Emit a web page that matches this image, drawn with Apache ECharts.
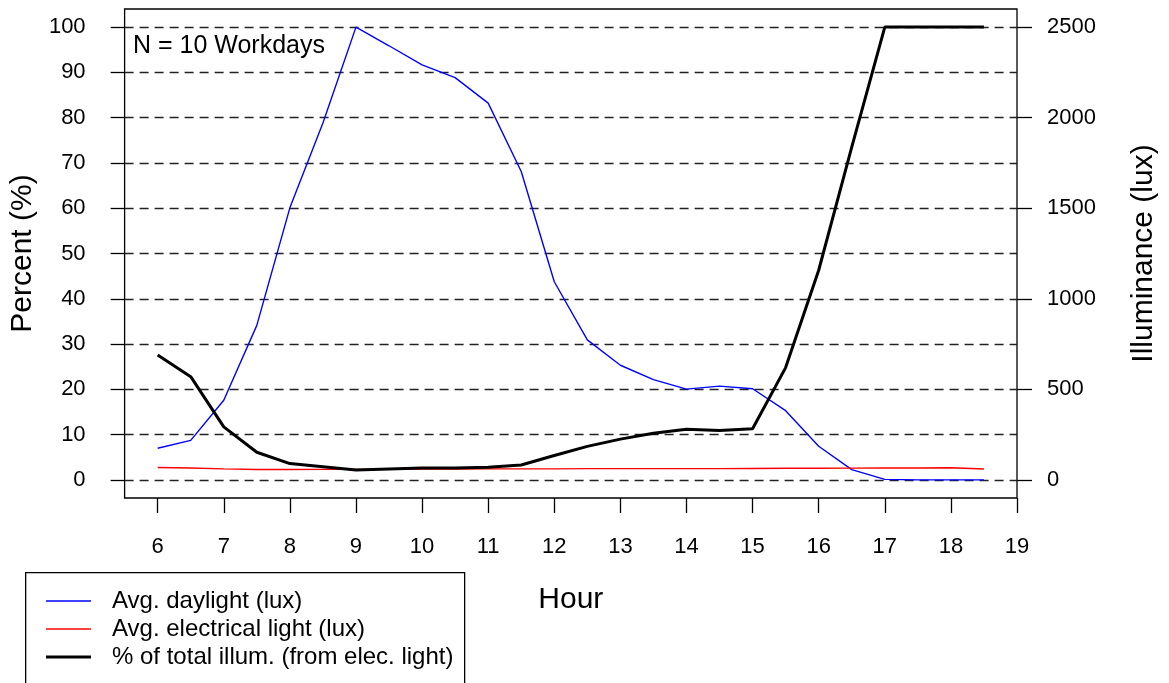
<!DOCTYPE html>
<html>
<head>
<meta charset="utf-8">
<script src="https://cdn.jsdelivr.net/npm/echarts@6/dist/echarts.min.js"></script>
<style>
html,body{margin:0;padding:0;background:#fff;}
#c{width:1169px;height:683px;}
</style>
</head>
<body>
<div id="c"></div>
<script>
var hours = [6, 6.5, 7, 7.5, 8, 8.5, 9, 9.5, 10, 10.5, 11, 11.5, 12, 12.5, 13, 13.5, 14, 14.5, 15, 15.5, 16, 16.5, 17, 17.5, 18, 18.5];
var daylightLux = [175, 218, 440, 853, 1502, 1970, 2500, 2397, 2291, 2221, 2080, 1703, 1094, 773, 633, 554, 501, 518, 503, 382, 186, 57, 3, 0, 0, 0];
var electricLux = [68, 66, 61, 57, 57, 58, 58, 59, 60, 60, 61, 61, 61, 62, 62, 62, 62, 62, 63, 64, 64, 65, 66, 66, 67, 60];
var pctElectric = [27.6, 22.8, 11.7, 6.1, 3.6, 2.9, 2.2, 2.4, 2.6, 2.6, 2.8, 3.3, 5.4, 7.4, 9.0, 10.3, 11.2, 10.9, 11.3, 24.8, 46.3, 73.5, 100, 100, 100, 100];
var xTicks = [6, 7, 8, 9, 10, 11, 12, 13, 14, 15, 16, 17, 18, 19];
var pctTicks = [0, 10, 20, 30, 40, 50, 60, 70, 80, 90, 100];
var luxTicks = [0, 500, 1000, 1500, 2000, 2500];
var seriesNames = ['Avg. daylight (lux)', 'Avg. electrical light (lux)', '% of total illum. (from elec. light)'];
var annotation = 'N = 10 Workdays';

function pairs(xs, ys) { return xs.map(function (x, i) { return [x, ys[i]]; }); }
function plain(v) { return String(v); }

var FONT = '"Liberation Sans", Arial, Helvetica, sans-serif';
var chart = echarts.init(document.getElementById('c'), null, {renderer: 'canvas'});
chart.setOption({
  animation: false,
  backgroundColor: '#ffffff',
  textStyle: {fontFamily: FONT, color: '#000'},
  title: {
    text: annotation, left: 133, top: 34, padding: 0,
    textStyle: {fontFamily: FONT, fontSize: 25, fontWeight: 'normal', color: '#000'}
  },
  grid: {left: 124, right: 152, top: 9, bottom: 185, show: true, borderColor: '#000', borderWidth: 1.3, backgroundColor: 'transparent'},
  xAxis: {
    type: 'value', min: 5.5, max: 19,
    name: 'Hour', nameLocation: 'middle', nameGap: 87,
    nameTextStyle: {fontFamily: FONT, fontSize: 30, color: '#000'},
    axisLine: {show: false, onZero: false},
    axisTick: {show: true, customValues: xTicks, length: 15, inside: false, lineStyle: {color: '#000', width: 1.3}},
    axisLabel: {customValues: xTicks, margin: 38, fontFamily: FONT, fontSize: 22, color: '#000', formatter: plain},
    splitLine: {show: false}
  },
  yAxis: [{
    type: 'value', min: -4, max: 104, position: 'left',
    name: 'Percent (%)', nameLocation: 'middle', nameGap: 82, nameRotate: 90,
    nameTextStyle: {fontFamily: FONT, fontSize: 30, color: '#000'},
    axisLine: {show: false, onZero: false},
    axisTick: {show: true, customValues: pctTicks, length: 14, lineStyle: {color: '#000', width: 1.3}},
    axisLabel: {customValues: pctTicks, margin: 39, fontFamily: FONT, fontSize: 22, color: '#000', formatter: plain},
    splitLine: {show: true, lineStyle: {color: '#222', width: 1.3, type: [9, 6]}}
  }, {
    type: 'value', min: -100, max: 2600, position: 'right',
    name: 'Illuminance (lux)', nameLocation: 'middle', nameGap: 112, nameRotate: 90,
    nameTextStyle: {fontFamily: FONT, fontSize: 30, color: '#000'},
    axisLine: {show: false, onZero: false},
    axisTick: {show: true, customValues: luxTicks, length: 15, lineStyle: {color: '#000', width: 1.3}},
    axisLabel: {customValues: luxTicks, margin: 30, fontFamily: FONT, fontSize: 22, color: '#000', formatter: plain},
    splitLine: {show: false}
  }],
  legend: {
    orient: 'vertical', left: 46, top: 589, padding: 0,
    itemWidth: 45, itemHeight: 14, itemGap: 4,
    data: [
      {name: seriesNames[0], icon: 'path://M0,0 L45,0 L45,1.3 L0,1.3 Z'},
      {name: seriesNames[1], icon: 'path://M0,0 L45,0 L45,1.3 L0,1.3 Z'},
      {name: seriesNames[2], icon: 'path://M0,0 L45,0 L45,3 L0,3 Z'}
    ],
    textStyle: {fontFamily: FONT, fontSize: 24, color: '#000', lineHeight: 24, padding: [0, 0, 0, 16]},
    selectedMode: false
  },
  graphic: [{
    type: 'rect', left: 25, top: 572, z: -1,
    shape: {width: 439, height: 200},
    style: {fill: '#fff', stroke: '#000', lineWidth: 1.3}
  }],
  series: [{
    name: seriesNames[0], type: 'line', yAxisIndex: 1, data: pairs(hours, daylightLux),
    symbol: 'none', color: '#0000ff', lineStyle: {color: '#0000ff', width: 1.4}, z: 3
  }, {
    name: seriesNames[1], type: 'line', yAxisIndex: 1, data: pairs(hours, electricLux),
    symbol: 'none', color: '#ff0000', lineStyle: {color: '#ff0000', width: 1.4}, z: 3
  }, {
    name: seriesNames[2], type: 'line', yAxisIndex: 0, data: pairs(hours, pctElectric),
    symbol: 'none', color: '#000000', lineStyle: {color: '#000000', width: 3}, z: 4
  }]
});
</script>
</body>
</html>
